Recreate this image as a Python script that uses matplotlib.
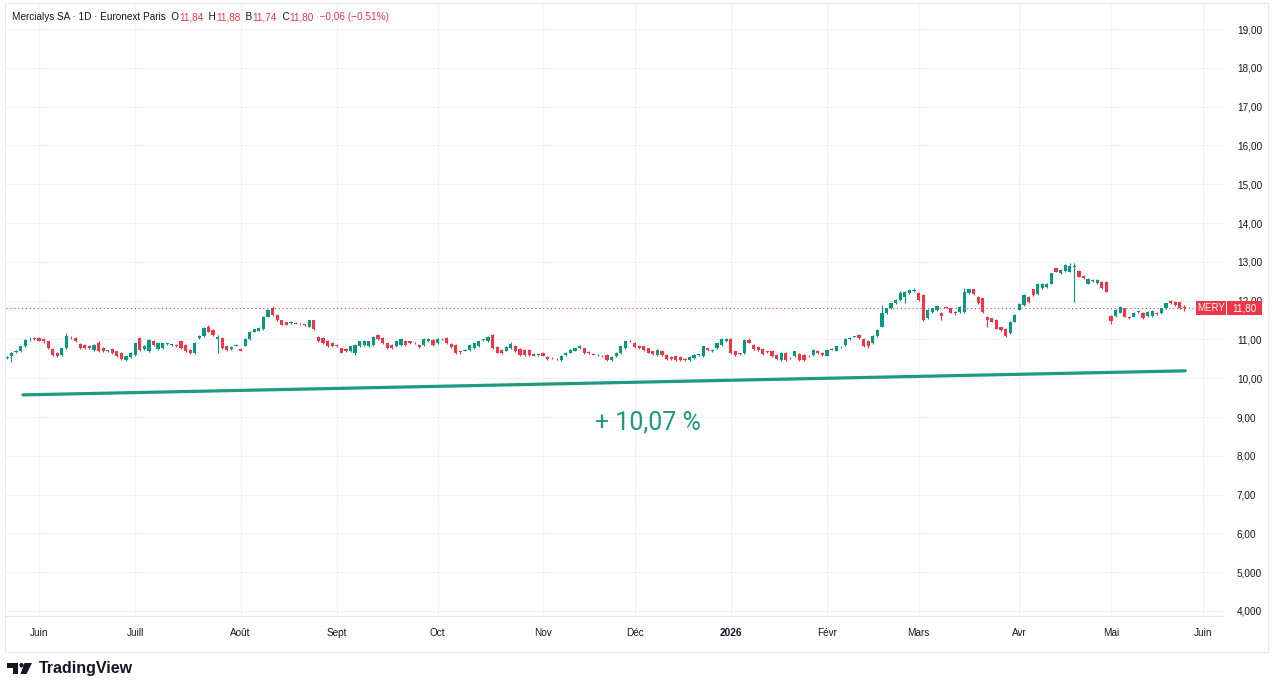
import matplotlib
matplotlib.use("Agg")
import matplotlib.pyplot as plt
import matplotlib.transforms as mtransforms
from matplotlib.patches import Rectangle, Circle, Polygon
import numpy as np
import pandas as pd

# daily OHLC, Mercialys SA (one value per trading day)
opens = [
    10.52, 10.56, 10.68, 10.69, 10.82, 11.00, 11.03, 11.03, 11.01, 10.95,
    10.75, 10.65, 10.60, 10.77, 11.06, 11.03, 10.88, 10.86, 10.84, 10.73,
    10.90, 10.78, 10.71, 10.75, 10.69, 10.65, 10.47, 10.54, 10.60, 11.03,
    10.76, 10.69, 10.97, 10.75, 10.78, 10.88, 10.86, 10.84, 10.97, 10.86,
    10.73, 10.65, 11.03, 11.09, 11.33, 11.25, 11.00, 11.03, 10.82, 10.75,
    10.84, 10.75, 10.84, 11.01, 11.20, 11.23, 11.26, 11.59, 11.80, 11.63,
    11.49, 11.44, 11.42, 11.42, 11.40, 11.38, 11.33, 11.49, 11.06, 11.03,
    10.97, 10.92, 10.84, 10.77, 10.75, 10.69, 10.65, 10.82, 10.86, 10.82,
    10.86, 11.12, 11.03, 10.90, 10.86, 10.82, 10.86, 10.97, 10.95, 10.91,
    10.86, 10.86, 10.95, 10.99, 10.90, 11.01, 11.03, 10.88, 10.86, 10.69,
    10.71, 10.73, 10.77, 10.82, 10.99, 10.95, 11.12, 10.80, 10.73, 10.71,
    10.77, 10.84, 10.75, 10.73, 10.73, 10.63, 10.60, 10.65, 10.54, 10.52,
    10.50, 10.47, 10.60, 10.66, 10.71, 10.78, 10.77, 10.67, 10.62, 10.59,
    10.58, 10.60, 10.47, 10.56, 10.65, 10.77, 10.97, 10.92, 10.84, 10.82,
    10.77, 10.69, 10.60, 10.71, 10.60, 10.54, 10.58, 10.54, 10.49, 10.46,
    10.52, 10.60, 10.56, 10.77, 10.69, 10.77, 10.86, 10.95, 11.01, 10.69,
    10.64, 10.65, 10.99, 10.86, 10.80, 10.75, 10.69, 10.71, 10.60, 10.47,
    10.66, 10.52, 10.56, 10.63, 10.60, 10.58, 10.60, 10.71, 10.66, 10.58,
    10.75, 10.71, 10.80, 10.86, 11.00, 11.07, 11.12, 11.01, 10.97, 10.90,
    11.09, 11.33, 11.67, 11.80, 11.94, 12.02, 12.10, 12.19, 12.24, 12.19,
    12.14, 11.54, 11.71, 11.76, 11.69, 11.83, 11.80, 11.71, 11.71, 11.71,
    12.19, 12.29, 12.10, 12.06, 11.59, 11.54, 11.50, 11.31, 11.28, 11.16,
    11.46, 11.77, 11.89, 12.10, 12.29, 12.17, 12.32, 12.34, 12.44, 12.83,
    12.70, 12.77, 12.75, 12.87, 12.77, 12.63, 12.44, 12.53, 12.46, 12.49,
    12.49, 11.60, 11.60, 11.69, 11.80, 11.58, 11.59, 11.71, 11.69, 11.60,
    11.60, 11.69, 11.67, 11.80, 11.99, 11.97, 11.97, 11.84,
]
highs = [
    10.58, 10.68, 10.73, 10.84, 11.02, 11.05, 11.06, 11.05, 11.03, 10.97,
    10.77, 10.67, 10.79, 11.16, 11.09, 11.05, 10.90, 10.88, 10.86, 10.88,
    10.95, 10.80, 10.74, 10.77, 10.71, 10.67, 10.58, 10.68, 10.92, 11.06,
    10.85, 11.02, 10.99, 10.92, 10.92, 10.92, 10.89, 10.87, 10.99, 10.88,
    10.75, 10.94, 11.12, 11.33, 11.38, 11.27, 11.12, 11.05, 10.84, 10.82,
    10.88, 10.77, 11.03, 11.22, 11.28, 11.31, 11.61, 11.79, 11.85, 11.65,
    11.51, 11.46, 11.48, 11.44, 11.42, 11.40, 11.51, 11.51, 11.08, 11.05,
    10.99, 10.94, 10.87, 10.79, 10.77, 10.84, 10.88, 10.97, 10.99, 10.97,
    11.09, 11.14, 11.05, 10.92, 10.88, 10.99, 11.03, 10.99, 10.97, 10.93,
    10.88, 11.03, 11.03, 11.01, 11.03, 11.03, 11.05, 10.90, 10.88, 10.71,
    10.75, 10.88, 10.92, 10.97, 11.02, 11.09, 11.14, 10.82, 10.75, 10.82,
    10.93, 10.86, 10.77, 10.75, 10.75, 10.65, 10.63, 10.67, 10.56, 10.54,
    10.52, 10.60, 10.68, 10.75, 10.79, 10.85, 10.79, 10.69, 10.64, 10.62,
    10.60, 10.62, 10.56, 10.68, 10.84, 10.97, 10.99, 10.94, 10.86, 10.84,
    10.79, 10.71, 10.75, 10.73, 10.62, 10.56, 10.60, 10.56, 10.51, 10.56,
    10.62, 10.63, 10.84, 10.79, 10.76, 10.92, 11.03, 11.04, 11.03, 10.71,
    10.66, 11.01, 11.04, 10.88, 10.82, 10.77, 10.71, 10.73, 10.62, 10.68,
    10.68, 10.54, 10.71, 10.65, 10.62, 10.60, 10.75, 10.73, 10.68, 10.75,
    10.77, 10.84, 10.83, 11.03, 11.05, 11.10, 11.14, 11.03, 10.99, 11.11,
    11.27, 11.89, 11.82, 11.95, 12.04, 12.26, 12.25, 12.29, 12.32, 12.21,
    12.16, 11.78, 11.82, 11.88, 11.71, 11.85, 11.82, 11.73, 11.86, 12.32,
    12.31, 12.31, 12.12, 12.08, 11.61, 11.56, 11.52, 11.33, 11.30, 11.48,
    11.65, 11.93, 12.16, 12.12, 12.31, 12.46, 12.46, 12.46, 12.72, 12.85,
    12.81, 12.94, 12.96, 12.96, 12.79, 12.65, 12.59, 12.55, 12.55, 12.51,
    12.51, 11.62, 11.78, 11.86, 11.82, 11.60, 11.71, 11.74, 11.71, 11.73,
    11.76, 11.71, 11.82, 11.95, 12.02, 11.99, 11.99, 11.88,
]
lows = [
    10.49, 10.43, 10.66, 10.67, 10.80, 10.97, 10.99, 10.95, 10.92, 10.75,
    10.58, 10.55, 10.58, 10.75, 11.02, 10.93, 10.75, 10.76, 10.76, 10.71,
    10.67, 10.67, 10.68, 10.63, 10.54, 10.46, 10.44, 10.52, 10.58, 10.71,
    10.73, 10.67, 10.84, 10.73, 10.76, 10.86, 10.84, 10.81, 10.75, 10.67,
    10.63, 10.63, 11.01, 11.07, 11.18, 11.10, 10.65, 10.75, 10.71, 10.73,
    10.82, 10.69, 10.82, 10.99, 11.18, 11.21, 11.24, 11.57, 11.61, 11.47,
    11.36, 11.36, 11.40, 11.39, 11.37, 11.35, 11.31, 11.24, 10.93, 10.88,
    10.80, 10.80, 10.81, 10.64, 10.67, 10.67, 10.60, 10.80, 10.84, 10.80,
    10.84, 10.99, 10.88, 10.75, 10.75, 10.80, 10.84, 10.84, 10.88, 10.88,
    10.78, 10.84, 10.93, 10.84, 10.88, 10.98, 10.88, 10.78, 10.63, 10.62,
    10.69, 10.71, 10.75, 10.80, 10.97, 10.93, 10.75, 10.64, 10.63, 10.69,
    10.75, 10.67, 10.58, 10.58, 10.58, 10.56, 10.57, 10.56, 10.47, 10.49,
    10.47, 10.45, 10.58, 10.64, 10.69, 10.76, 10.63, 10.62, 10.59, 10.57,
    10.55, 10.45, 10.44, 10.54, 10.63, 10.75, 10.93, 10.78, 10.75, 10.71,
    10.64, 10.61, 10.58, 10.58, 10.47, 10.47, 10.45, 10.44, 10.44, 10.44,
    10.50, 10.58, 10.54, 10.71, 10.67, 10.75, 10.84, 10.93, 10.63, 10.58,
    10.60, 10.63, 10.90, 10.73, 10.71, 10.61, 10.65, 10.54, 10.47, 10.45,
    10.44, 10.49, 10.54, 10.45, 10.44, 10.55, 10.58, 10.63, 10.58, 10.56,
    10.72, 10.69, 10.78, 10.84, 10.98, 11.05, 11.01, 10.80, 10.78, 10.88,
    11.07, 11.31, 11.65, 11.78, 11.92, 12.00, 11.93, 12.17, 12.22, 12.00,
    11.48, 11.52, 11.69, 11.74, 11.50, 11.80, 11.67, 11.62, 11.69, 11.69,
    12.17, 12.15, 11.91, 11.69, 11.31, 11.44, 11.26, 11.22, 11.07, 11.14,
    11.44, 11.75, 11.87, 11.95, 12.12, 12.15, 12.30, 12.32, 12.42, 12.73,
    12.68, 12.75, 12.73, 11.97, 12.60, 12.56, 12.42, 12.48, 12.44, 12.30,
    12.21, 11.41, 11.58, 11.67, 11.57, 11.53, 11.57, 11.68, 11.52, 11.58,
    11.58, 11.64, 11.65, 11.78, 11.91, 11.87, 11.78, 11.74,
]
closes = [
    10.55, 10.66, 10.70, 10.82, 10.99, 11.02, 11.02, 10.97, 10.95, 10.77,
    10.60, 10.58, 10.77, 11.09, 11.05, 10.95, 10.77, 10.78, 10.78, 10.86,
    10.69, 10.69, 10.71, 10.65, 10.56, 10.49, 10.56, 10.66, 10.90, 10.73,
    10.82, 10.99, 10.86, 10.90, 10.90, 10.89, 10.86, 10.83, 10.77, 10.69,
    10.65, 10.92, 11.09, 11.29, 11.20, 11.12, 11.05, 10.77, 10.73, 10.80,
    10.85, 10.71, 11.01, 11.20, 11.26, 11.29, 11.59, 11.76, 11.63, 11.49,
    11.38, 11.38, 11.44, 11.41, 11.39, 11.37, 11.49, 11.26, 10.95, 10.90,
    10.82, 10.82, 10.83, 10.66, 10.69, 10.82, 10.86, 10.95, 10.97, 10.95,
    11.07, 11.01, 10.90, 10.77, 10.77, 10.97, 11.01, 10.86, 10.90, 10.90,
    10.80, 11.01, 11.01, 10.86, 11.01, 11.00, 10.90, 10.80, 10.65, 10.68,
    10.73, 10.86, 10.90, 10.95, 11.00, 11.07, 10.77, 10.66, 10.65, 10.80,
    10.89, 10.69, 10.60, 10.60, 10.60, 10.58, 10.60, 10.58, 10.49, 10.51,
    10.49, 10.58, 10.66, 10.73, 10.77, 10.82, 10.65, 10.64, 10.61, 10.60,
    10.57, 10.47, 10.54, 10.66, 10.82, 10.95, 10.95, 10.80, 10.77, 10.73,
    10.66, 10.63, 10.73, 10.60, 10.49, 10.49, 10.47, 10.46, 10.46, 10.54,
    10.60, 10.61, 10.82, 10.73, 10.74, 10.90, 11.01, 11.01, 10.65, 10.60,
    10.62, 10.99, 10.92, 10.75, 10.73, 10.63, 10.67, 10.56, 10.49, 10.66,
    10.46, 10.51, 10.69, 10.47, 10.46, 10.57, 10.73, 10.65, 10.60, 10.73,
    10.74, 10.82, 10.80, 11.01, 11.03, 11.07, 11.03, 10.82, 10.84, 11.09,
    11.25, 11.68, 11.80, 11.93, 12.02, 12.19, 12.23, 12.27, 12.27, 12.02,
    11.50, 11.76, 11.80, 11.86, 11.60, 11.82, 11.69, 11.67, 11.84, 12.23,
    12.29, 12.17, 11.93, 11.71, 11.50, 11.46, 11.28, 11.24, 11.09, 11.46,
    11.63, 11.91, 12.14, 11.97, 12.14, 12.44, 12.44, 12.44, 12.70, 12.75,
    12.79, 12.92, 12.89, 12.90, 12.62, 12.58, 12.57, 12.50, 12.53, 12.32,
    12.23, 11.48, 11.76, 11.84, 11.59, 11.55, 11.69, 11.71, 11.54, 11.71,
    11.74, 11.66, 11.80, 11.93, 11.93, 11.89, 11.80, 11.80,
]

first_day = "2025-05-22"
axis_end_day = "2026-06-01"
holidays = ["2025-12-25", "2025-12-26", "2026-01-01", "2026-04-03", "2026-04-06", "2026-05-01"]
month_labels = ["Juin", "Juill", "Août", "Sept", "Oct", "Nov", "Déc", "2026",
                "Févr", "Mars", "Avr", "Mai", "Juin"]
price_ticks = [4, 5, 6, 7, 8, 9, 10, 11, 12, 13, 14, 15, 16, 17, 18, 19]
price_labels = ["4,000", "5,000", "6,00", "7,00", "8,00", "9,00", "10,00", "11,00",
                "12,00", "13,00", "14,00", "15,00", "16,00", "17,00", "18,00", "19,00"]
last_price = 11.80
last_label = "11,80"
ticker = "MERY"
trend_x = [3.5, 257.2]
trend_y = [9.57, 10.19]
perf_text = "+ 10,07 %"
perf_pos = (140, 8.85)
header = [("Mercialys SA · 1D · Euronext Paris  O", "dark"), ("11,84", "red"),
          ("  H", "dark"), ("11,88", "red"), ("  B", "dark"), ("11,74", "red"),
          ("  C", "dark"), ("11,80", "red"), ("  \u22120,06 (\u22120,51%)", "red")]

GREEN = "#089981"
RED = "#F23645"
DARK = "#131722"
GRID = "#f0f2f5"
TREND = "#1e9a80"

plt.rcParams["font.family"] = ["Liberation Sans", "DejaVu Sans"]

W, H = 1280, 682
fig = plt.figure(figsize=(W / 100, H / 100), dpi=100)
fig.patch.set_facecolor("white")
# pixel transform, origin top-left
px = mtransforms.Affine2D().scale(0.01, -0.01).translate(0, H / 100) + fig.dpi_scale_trans

ax = fig.add_axes([6 / W, 1 - 615.5 / H, (1223 - 6) / W, (615.5 - 5) / H])
ax.set_facecolor("white")

days = pd.bdate_range(first_day, axis_end_day)
days = days[~days.isin(pd.to_datetime(holidays))]
month_pos = [i for i in range(1, len(days)) if days[i].month != days[i - 1].month]

n = len(closes)
x = np.arange(n)
o = np.array(opens)
c = np.array(closes)
colors = [GREEN if cc >= oo else RED for oo, cc in zip(o, c)]

ax.vlines(x, lows, highs, colors=colors, linewidth=0.8, zorder=3)
body_low = np.minimum(o, c)
body_h = np.maximum(np.abs(c - o), 0.015)
ax.bar(x, body_h, bottom=body_low, width=0.7, color=colors, linewidth=0, zorder=4)

# last price dotted line
ax.axhline(last_price, color=RED, linewidth=0.8, linestyle=(0, (1, 2.5)), zorder=2)

# trend line and performance label
ax.plot(trend_x, trend_y, color=TREND, linewidth=2.3, solid_capstyle="round", zorder=5)
ax.text(perf_pos[0], perf_pos[1], perf_text, color=TREND, fontsize=18,
        family=["Roboto", "DejaVu Sans"], ha="center", va="center")

ax.set_xlim(-0.2, 265.45)
ax.set_ylim(3.884, 19.62)

ax.yaxis.tick_right()
ax.set_yticks(price_ticks, price_labels)
ax.tick_params(axis="y", length=0, pad=10, labelsize=7.2, labelcolor=DARK)
ax.set_xticks(month_pos, month_labels)
ax.tick_params(axis="x", length=0, pad=9, labelsize=7.2, labelcolor=DARK)
for lbl in ax.get_xticklabels():
    if lbl.get_text() == "2026":
        lbl.set_fontweight("bold")

ax.grid(True, color=GRID, linewidth=0.9)
ax.set_axisbelow(True)
for side in ["top", "left", "right"]:
    ax.spines[side].set_visible(False)
ax.spines["bottom"].set_color("#e6e8ee")
ax.spines["bottom"].set_linewidth(0.8)

# outer frame
fig.add_artist(Rectangle((5, 3), 1263, 649, transform=px, fill=False,
                         edgecolor="#e6e8ee", linewidth=0.8))

# ticker / last price boxes on the price scale
blend = mtransforms.blended_transform_factory(px, ax.transData)
box_h = 14 / 38.8
ax.add_patch(Rectangle((1196, last_price - box_h / 2), 30, box_h, transform=blend,
                       facecolor=RED, edgecolor="none", clip_on=False, zorder=6))
ax.add_patch(Rectangle((1227, last_price - box_h / 2), 35, box_h, transform=blend,
                       facecolor=RED, edgecolor="none", clip_on=False, zorder=6))
ax.text(1211, last_price, ticker, transform=blend, color="white", fontsize=7,
        ha="center", va="center", clip_on=False, zorder=7)
ax.text(1244.5, last_price, last_label, transform=blend, color="white", fontsize=7.2,
        ha="center", va="center", clip_on=False, zorder=7)

# header line, pieces chained left to right
prev = fig.text(12, 22, header[0][0], transform=px, fontsize=7.2, color=DARK,
                ha="left", va="bottom")
for txt, col in header[1:]:
    prev = ax.annotate(txt, xy=(1, 0), xycoords=prev, fontsize=7.2,
                       color=RED if col == "red" else DARK, ha="left", va="bottom",
                       annotation_clip=False)

# TradingView logo
fig.add_artist(Polygon([(7, 663), (18, 663), (18, 674), (13, 674), (13, 667.5), (7, 667.5)],
                       closed=True, transform=px, facecolor=DARK, edgecolor="none"))
fig.add_artist(Circle((21.5, 665.2), 2.2, transform=px, facecolor=DARK, edgecolor="none"))
fig.add_artist(Polygon([(24.5, 663), (32, 663), (26.5, 674), (20.5, 674)],
                       closed=True, transform=px, facecolor=DARK, edgecolor="none"))
fig.text(39, 669, "TradingView", transform=px, fontsize=11.5, fontweight="bold",
         color=DARK, ha="left", va="center")

fig.savefig("out.png", dpi=100, facecolor="white")
